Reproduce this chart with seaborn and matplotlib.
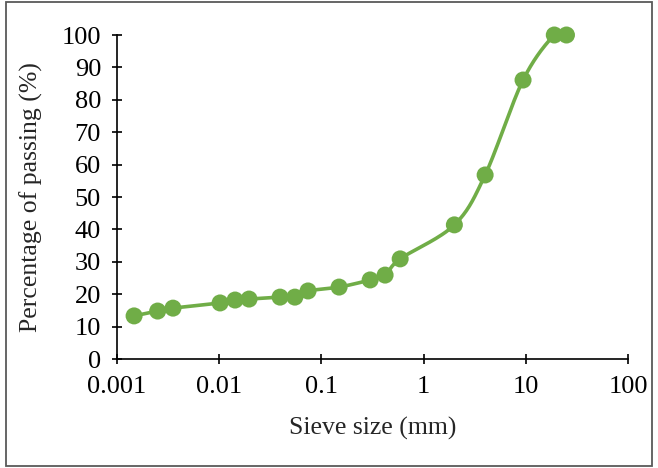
import numpy as np
import pandas as pd
import matplotlib
matplotlib.use("Agg")
import matplotlib.pyplot as plt
from matplotlib.ticker import FixedLocator, FuncFormatter, NullLocator
from matplotlib.patches import Rectangle
import seaborn as sns

# grain size distribution
sieve_mm = [0.00147, 0.0025, 0.00353, 0.0102, 0.0143, 0.0196, 0.0394, 0.055,
            0.074, 0.149, 0.30, 0.42, 0.59, 2.0, 4.0, 9.4, 19.0, 25.0]
passing = [13.3, 14.8, 15.7, 17.3, 18.2, 18.5, 19.1, 19.1,
           21.0, 22.2, 24.4, 25.9, 30.9, 41.4, 56.8, 86.1, 100.0, 100.0]
x_ticks = [0.001, 0.01, 0.1, 1, 10, 100]
y_ticks = list(range(0, 101, 10))

green = "#70AD47"


def smooth_curve(xs, ys, n=30):
    # Excel-like smoothed line: Catmull-Rom in (log10 x, y)
    px = np.log10(np.asarray(xs))
    py = np.asarray(ys, dtype=float)
    P = np.column_stack([px, py])
    P = np.vstack([P[0], P, P[-1]])
    out = []
    t = np.linspace(0, 1, n)[:, None]
    for i in range(1, len(P) - 2):
        p0, p1, p2, p3 = P[i - 1], P[i], P[i + 1], P[i + 2]
        c1 = p1 + (p2 - p0) / 6.0
        c2 = p2 - (p3 - p1) / 6.0
        seg = ((1 - t) ** 3) * p1 + 3 * ((1 - t) ** 2) * t * c1 \
            + 3 * (1 - t) * t ** 2 * c2 + t ** 3 * p2
        out.append(seg if i == 1 else seg[1:])
    out = np.vstack(out)
    return pd.DataFrame({"x": 10 ** out[:, 0], "y": out[:, 1]})


sns.set_style("ticks")
plt.rcParams["font.family"] = ["Liberation Serif", "DejaVu Serif"]

fig = plt.figure(figsize=(6.58, 4.68), dpi=100)
ax = fig.add_axes([0.1778, 0.2329, 0.9544 - 0.1778, 0.9252 - 0.2329])

curve = smooth_curve(sieve_mm, passing)
sns.lineplot(data=curve, x="x", y="y", sort=False, color=green, linewidth=2.6,
             estimator=None, ax=ax, zorder=2)
pts = pd.DataFrame({"sieve": sieve_mm, "passing": passing})
sns.scatterplot(data=pts, x="sieve", y="passing", color=green, s=150,
                edgecolor="none", ax=ax, zorder=3, clip_on=False)

ax.set_xscale("log")
ax.set_xlim(0.001, 100)
ax.set_ylim(0, 100)
ax.xaxis.set_major_locator(FixedLocator(x_ticks))
ax.xaxis.set_minor_locator(NullLocator())
ax.xaxis.set_major_formatter(FuncFormatter(lambda v, p: "%g" % v))
ax.yaxis.set_major_locator(FixedLocator(y_ticks))

sns.despine(ax=ax)
for s in ["left", "bottom"]:
    ax.spines[s].set_linewidth(1.2)
    ax.spines[s].set_color("black")
ax.tick_params(axis="both", direction="inout", length=7, width=1.2,
               labelsize=19, colors="black")
ax.tick_params(axis="x", pad=9)
ax.tick_params(axis="y", pad=8)

ax.set_xlabel("Sieve size (mm)", fontsize=18.5, labelpad=13)
ax.set_ylabel("Percentage of passing (%)", fontsize=18.5, labelpad=13)

fig.patches.append(Rectangle((6 / 658, 2 / 468), 646 / 658, 464 / 468,
                             transform=fig.transFigure, fill=False,
                             edgecolor="#595959", linewidth=1.3))

fig.savefig("out.png", dpi=100)
